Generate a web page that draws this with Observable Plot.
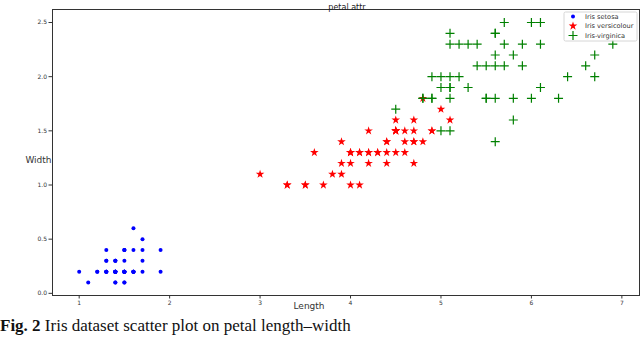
<!DOCTYPE html>
<html>
<head>
<meta charset="utf-8">
<script src="https://cdn.jsdelivr.net/npm/d3@7"></script>
<script src="https://cdn.jsdelivr.net/npm/@observablehq/plot@0.6"></script>
<style>
  html, body { margin: 0; padding: 0; background: white; }
  #wrap { position: relative; width: 640px; height: 337px; overflow: hidden; background: white; }
  #caption { position: absolute; left: 0px; top: 316px; font-family: "Liberation Serif", serif; font-size: 17px; line-height: 1.15; white-space: nowrap; color: #111; }
</style>
</head>
<body>
<div id="wrap">
  <div id="chart"></div>
  <div id="caption"><b>Fig. 2</b> Iris dataset scatter plot on petal length–width</div>
</div>
<script>
// Petal length / width per species (Iris dataset)
const setosaLength = [1.4,1.4,1.3,1.5,1.4,1.7,1.4,1.5,1.4,1.5,1.5,1.6,1.4,1.1,1.2,1.5,1.3,1.4,1.7,1.5,1.7,1.5,1.0,1.7,1.9,1.6,1.6,1.5,1.4,1.6,1.6,1.5,1.5,1.4,1.5,1.2,1.3,1.4,1.3,1.5,1.3,1.3,1.3,1.6,1.9,1.4,1.6,1.4,1.5,1.4];
const setosaWidth  = [0.2,0.2,0.2,0.2,0.2,0.4,0.3,0.2,0.2,0.1,0.2,0.2,0.1,0.1,0.2,0.4,0.4,0.3,0.3,0.3,0.2,0.4,0.2,0.5,0.2,0.2,0.4,0.2,0.2,0.2,0.2,0.4,0.1,0.2,0.2,0.2,0.2,0.1,0.2,0.2,0.3,0.3,0.2,0.6,0.4,0.3,0.2,0.2,0.2,0.2];
const versicolourLength = [4.7,4.5,4.9,4.0,4.6,4.5,4.7,3.3,4.6,3.9,3.5,4.2,4.0,4.7,3.6,4.4,4.5,4.1,4.5,3.9,4.8,4.0,4.9,4.7,4.3,4.4,4.8,5.0,4.5,3.5,3.8,3.7,3.9,5.1,4.5,4.5,4.7,4.4,4.1,4.0,4.4,4.6,4.0,3.3,4.2,4.2,4.2,4.3,3.0,4.1];
const versicolourWidth  = [1.4,1.5,1.5,1.3,1.5,1.3,1.6,1.0,1.3,1.4,1.0,1.5,1.0,1.4,1.3,1.4,1.5,1.0,1.5,1.1,1.8,1.3,1.5,1.2,1.3,1.4,1.4,1.7,1.5,1.0,1.1,1.0,1.2,1.6,1.5,1.6,1.5,1.3,1.3,1.3,1.2,1.4,1.2,1.0,1.3,1.2,1.3,1.3,1.1,1.3];
const virginicaLength = [6.0,5.1,5.9,5.6,5.8,6.6,4.5,6.3,5.8,6.1,5.1,5.3,5.5,5.0,5.1,5.3,5.5,6.7,6.9,5.0,5.7,4.9,6.7,4.9,5.7,6.0,4.8,4.9,5.6,5.8,6.1,6.4,5.6,5.1,5.6,6.1,5.6,5.5,4.8,5.4,5.6,5.1,5.1,5.9,5.7,5.2,5.0,5.2,5.4,5.1];
const virginicaWidth  = [2.5,1.9,2.1,1.8,2.2,2.1,1.7,1.8,1.8,2.5,2.0,1.9,2.1,2.0,2.4,2.3,1.8,2.2,2.3,1.5,2.3,2.0,2.0,1.8,2.1,1.8,1.8,1.8,2.1,1.6,1.9,2.0,2.2,1.5,1.4,2.3,2.4,1.8,1.8,2.1,2.4,2.3,1.9,2.3,2.5,2.3,1.9,2.0,2.3,1.8];

const xTicks = [1, 2, 3, 4, 5, 6, 7];
const yTicks = [0, 0.5, 1.0, 1.5, 2.0, 2.5];
const seriesNames = ["Iris setosa", "Iris versicolour", "Iris-virginica"];
const titleText = "petal attr";
const xLabel = "Length";
const yLabel = "Width";

const zip = (xs, ys) => xs.map((x, i) => ({x, y: ys[i]}));
const setosa = zip(setosaLength, setosaWidth);
const versicolour = zip(versicolourLength, versicolourWidth);
const virginica = zip(virginicaLength, virginicaWidth);

const svg = Plot.plot({
  width: 640,
  height: 337,
  marginTop: 9,
  marginBottom: 42,
  marginLeft: 52,
  marginRight: 1,
  style: {fontFamily: "DejaVu Sans", fontSize: "6px", background: "white", color: "#333"},
  x: {domain: [0.705, 7.195]},
  y: {domain: [-0.02, 2.62]},
  marks: [
    Plot.frame({stroke: "#333", strokeWidth: 1}),
    Plot.axisX({ticks: xTicks, tickSize: 3.5, tickPadding: 2, label: null, fontSize: 6, tickFormat: d3.format("d"), stroke: "#333"}),
    Plot.axisY({ticks: yTicks, tickSize: 3.5, tickPadding: 2, label: null, fontSize: 6, tickFormat: d3.format(".1f"), stroke: "#333"}),
    Plot.dot(setosa, {x: "x", y: "y", r: 2, fill: "blue"}),
    Plot.dot(versicolour, {x: "x", y: "y", symbol: "star", r: 2.7, fill: "red"}),
    Plot.dot(virginica, {x: "x", y: "y", symbol: "plus", r: 3, stroke: "green", strokeWidth: 1.2}),
    Plot.text([titleText], {frameAnchor: "top", dx: 1, dy: -5, fontSize: 8, fill: "#222"}),
    Plot.text([yLabel], {frameAnchor: "left", textAnchor: "middle", dx: -14, dy: 8, fontSize: 9, fill: "#333"}),
    Plot.text([xLabel], {frameAnchor: "bottom", dx: -37, dy: 13, fontSize: 9, fill: "#333"})
  ]
});

// legend
const lg = d3.select(svg).append("g").attr("font-family", "DejaVu Sans").attr("font-size", 6.6).attr("text-anchor", "start");
lg.append("rect").attr("x", 564).attr("y", 12).attr("width", 73).attr("height", 29)
  .attr("rx", 1.5).attr("fill", "white").attr("fill-opacity", 0.8).attr("stroke", "#ccc").attr("stroke-width", 0.8);
const legendSymbols = [
  {sym: d3.symbolCircle, r: 2, fill: "blue", stroke: "none"},
  {sym: d3.symbolStar, r: 2.7, fill: "red", stroke: "none"},
  {sym: d3.symbolPlus, r: 3, fill: "none", stroke: "green"}
];
seriesNames.forEach((name, i) => {
  const yy = 16.5 + i * 9.5;
  const s = legendSymbols[i];
  lg.append("path").attr("d", d3.symbol(s.sym, s.r * s.r * Math.PI)())
    .attr("transform", `translate(573,${yy})`)
    .attr("fill", s.fill).attr("stroke", s.stroke).attr("stroke-width", 1.2);
  lg.append("text").attr("x", 585).attr("y", yy).attr("dy", "0.32em").attr("text-anchor", "start").attr("fill", "#333").text(name);
});

document.getElementById("chart").appendChild(svg);
</script>
</body>
</html>
